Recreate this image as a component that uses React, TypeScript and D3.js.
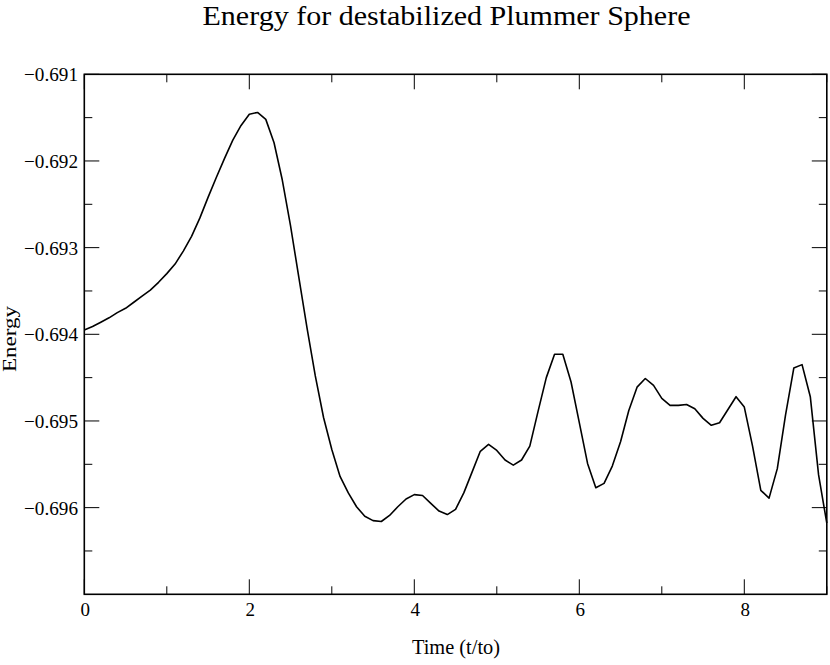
import React from 'react';
import * as d3 from 'd3';

// energy sampled every 0.1 t/to, from t = 0 to t = 9
const energy = [
  -0.69395, -0.69391, -0.69386, -0.69381, -0.69375, -0.69370, -0.69363, -0.69356, -0.69349, -0.69340,
  -0.69330, -0.69319, -0.69304, -0.69287, -0.69266, -0.69242, -0.69219, -0.69197, -0.69176, -0.69159,
  -0.69146, -0.69144, -0.69152, -0.69179, -0.69222, -0.69275, -0.69334, -0.69393, -0.69448, -0.69496,
  -0.69533, -0.69564, -0.69583, -0.69599, -0.69610, -0.69615, -0.69616, -0.69609, -0.69599, -0.69590,
  -0.69585, -0.69586, -0.69595, -0.69604, -0.69608, -0.69602, -0.69583, -0.69559, -0.69535, -0.69527,
  -0.69534, -0.69545, -0.69551, -0.69545, -0.69529, -0.69489, -0.69450, -0.69423, -0.69423, -0.69455,
  -0.69502, -0.69549, -0.69577, -0.69572, -0.69552, -0.69524, -0.69488, -0.69461, -0.69451, -0.69459,
  -0.69474, -0.69482, -0.69482, -0.69481, -0.69486, -0.69497, -0.69505, -0.69502, -0.69487, -0.69472,
  -0.69484, -0.69529, -0.69580, -0.69589, -0.69555, -0.69493, -0.69439, -0.69435, -0.69472, -0.69562,
  -0.69618,
];
const timeStep = 0.1;

const xMajor = [0, 2, 4, 6, 8];
const xMinor = [1, 3, 5, 7, 9];
const yMajor = [-0.696, -0.695, -0.694, -0.693, -0.692, -0.691];
const yMinor = [-0.6965, -0.6955, -0.6945, -0.6935, -0.6925, -0.6915];

const W = 830;
const H = 665;
const left = 84.3, right = 826.8, top = 74.3, bottom = 594.3;
const serif = "'Liberation Serif', 'Times New Roman', Times, 'DejaVu Serif', serif";

export default function App() {
  const x = d3.scaleLinear().domain([0, 9]).range([left, right]);
  const y = d3.scaleLinear().domain([-0.697, -0.691]).range([bottom, top]);

  const line = d3.line<number>()
    .x((_, i) => x(i * timeStep))
    .y(d => y(d));

  const fmt = (v: number) => '\u2212' + Math.abs(v).toFixed(3);
  const majLen = 15, minLen = 8;
  const txt = { fontFamily: serif };

  return (
    <svg width={W} height={H} style={{ position: 'absolute', left: 0, top: 0, background: '#fff' }}>
      <rect x={0} y={0} width={W} height={H} fill="#fff" />
      <text x={446.5} y={25} textAnchor="middle" style={txt} fontSize={27}
        textLength={488} lengthAdjust="spacingAndGlyphs">Energy for destabilized Plummer Sphere</text>

      {/* x ticks, bottom and top */}
      {xMajor.concat(xMinor).map(t => {
        const len = xMajor.includes(t) ? majLen : minLen;
        return (
          <g key={'xt' + t} stroke="#000" strokeWidth={1}>
            <line x1={x(t)} x2={x(t)} y1={bottom} y2={bottom - len} />
            <line x1={x(t)} x2={x(t)} y1={top} y2={top + len} />
          </g>
        );
      })}
      {/* y ticks, left and right */}
      {yMajor.concat(yMinor).map(v => {
        const len = yMajor.includes(v) ? majLen : minLen;
        return (
          <g key={'yt' + v} stroke="#000" strokeWidth={1}>
            <line x1={left} x2={left + len} y1={y(v)} y2={y(v)} />
            <line x1={right} x2={right - len} y1={y(v)} y2={y(v)} />
          </g>
        );
      })}

      {xMajor.map(t => (
        <text key={'xl' + t} x={x(t) + 1} y={616} textAnchor="middle" style={txt} fontSize={19}>{t}</text>
      ))}
      {yMajor.map(v => (
        <text key={'yl' + v} x={78} y={y(v) + 7} textAnchor="end" style={txt} fontSize={19}
          textLength={54} lengthAdjust="spacingAndGlyphs">{fmt(v)}</text>
      ))}

      <text x={456} y={654} textAnchor="middle" style={txt} fontSize={20}
        textLength={88} lengthAdjust="spacingAndGlyphs">Time (t/to)</text>
      <text transform={`translate(16,339) rotate(-90)`} textAnchor="middle" style={txt} fontSize={19}
        textLength={66} lengthAdjust="spacingAndGlyphs">Energy</text>

      <path d={line(energy) || ''} fill="none" stroke="#000" strokeWidth={1.6} strokeLinejoin="round" />
      <rect x={left} y={top} width={right - left} height={bottom - top} fill="none" stroke="#000" strokeWidth={1.6} />
    </svg>
  );
}
